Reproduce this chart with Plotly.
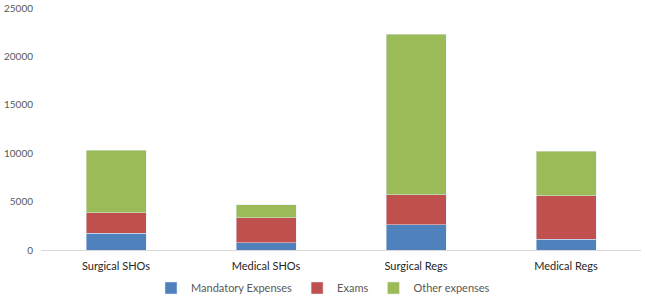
import plotly.graph_objects as go

categories = ["Surgical SHOs", "Medical SHOs", "Surgical Regs", "Medical Regs"]
mandatory = [1750, 750, 2600, 1100]
exams = [2100, 2590, 3100, 4500]
other = [6450, 1310, 16600, 4600]
y_ticks = [0, 5000, 10000, 15000, 20000, 25000]
y_tick_labels = ["0", "5000", "10000", "15000", "20000", "25000"]

fig = go.Figure()
fig.add_trace(go.Bar(name="Mandatory Expenses", x=categories, y=mandatory, marker_color="#4F81BD"))
fig.add_trace(go.Bar(name="Exams", x=categories, y=exams, marker_color="#C0504D"))
fig.add_trace(go.Bar(name="Other expenses", x=categories, y=other, marker_color="#9BBB59"))

fig.update_layout(
    barmode="stack",
    bargap=0.6,
    width=645, height=299,
    margin=dict(l=41, r=4, t=8, b=49, autoexpand=False),
    paper_bgcolor="white", plot_bgcolor="white",
    font=dict(family="Lato, Liberation Sans, sans-serif", size=11, color="#595959"),
    showlegend=True,
    hovermode=False,
    legend=dict(orientation="h", x=0.47, xanchor="center", y=-0.157, yanchor="middle",
                font=dict(size=11, color="#595959"), itemwidth=30, traceorder="normal"),
)
fig.update_yaxes(range=[0, 25000], tickvals=y_ticks, ticktext=y_tick_labels,
                 showgrid=False, zeroline=False, automargin=False, ticklabelstandoff=7,
                 showline=False, ticks="", tickfont=dict(size=10, color="#595959"))
fig.update_xaxes(showline=True, linecolor="#D9D9D9", linewidth=1, ticks="", automargin=False,
                 ticklabelstandoff=6, tickfont=dict(size=11, color="#262626"))

fig.write_html("out.html", config={"displayModeBar": False},
               post_script="document.body.style.margin='0';document.body.style.overflow='hidden';")
